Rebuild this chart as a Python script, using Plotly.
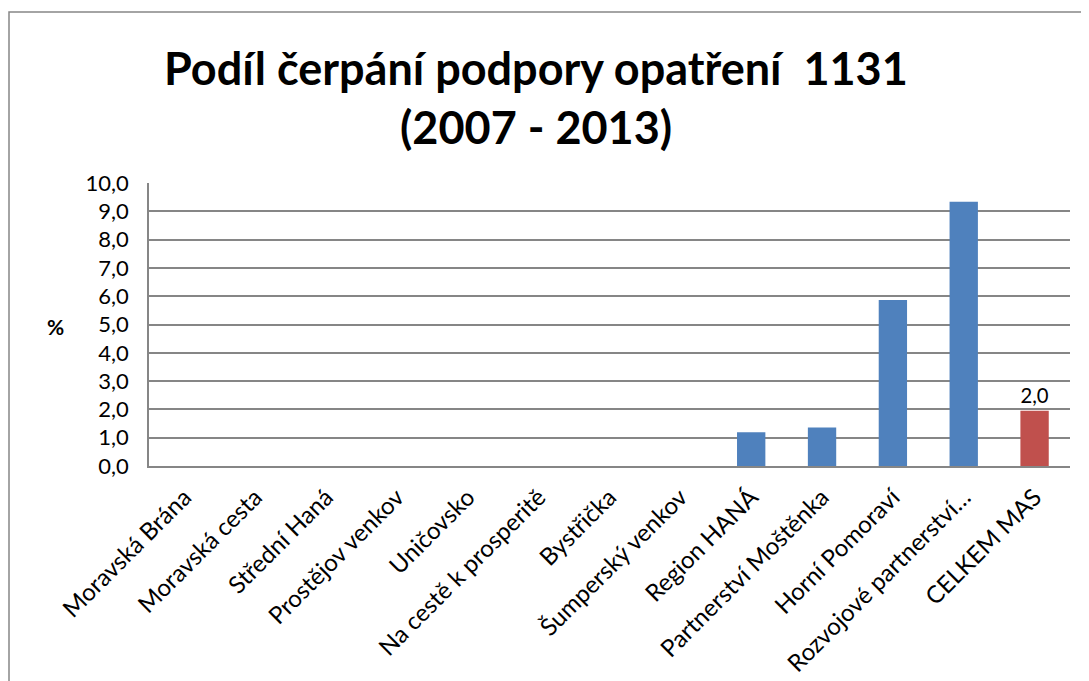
import plotly.graph_objects as go

categories = [
    "Moravská Brána", "Moravská cesta", "Střední Haná", "Prostějov venkov",
    "Uničovsko", "Na cestě k prosperitě", "Bystřička", "Šumperský venkov",
    "Region HANÁ", "Partnerství Moštěnka", "Horní Pomoraví",
    "Rozvojové partnerství…", "CELKEM MAS",
]
values = [0, 0, 0, 0, 0, 0, 0, 0, 1.19, 1.36, 5.87, 9.34, 1.95]
labels = [""] * 12 + ["2,0"]

BLUE = "#4F81BD"
RED = "#C0504D"
GRID = "#868686"
FONT = "Lato, Carlito, sans-serif"

colors = [RED if c == "CELKEM MAS" else BLUE for c in categories]

fig = go.Figure(go.Bar(
    x=categories,
    y=values,
    marker=dict(color=colors, line=dict(width=0)),
    text=labels,
    textposition="outside",
    textfont=dict(size=22, color="black", family=FONT),
    cliponaxis=False,
))

# page body has an 8px margin; target plot area on screen: x 149..1070, y 183..466
L, R, T, B = 149, 1070, 183, 466
W, H = R - L, B - T


def px(x):
    return (x - L) / W


def py(y):
    return (B - y) / H


fig.update_layout(
    width=1081,
    height=673,
    margin=dict(l=L - 8, r=1081 - (R - 8), t=T - 8, b=673 - (B - 8)),
    plot_bgcolor="white",
    paper_bgcolor="white",
    separators=", ",
    font=dict(family=FONT, color="black", size=22),
    bargap=0.6,
    showlegend=False,
    xaxis=dict(
        tickangle=-45,
        showline=True,
        linecolor=GRID,
        linewidth=1.5,
        showgrid=False,
        automargin=False,
        ticks="",
        ticklabelstandoff=6,
        tickfont=dict(size=24),
    ),
    yaxis=dict(
        range=[0, 10],
        dtick=1,
        tickformat=".1f",
        showgrid=True,
        gridcolor=GRID,
        gridwidth=1.5,
        showline=True,
        linecolor=GRID,
        linewidth=1.5,
        zeroline=False,
        automargin=False,
        ticks="",
        ticklabelstandoff=14,
        tickfont=dict(size=22),
    ),
    annotations=[
        dict(text="<b>Podíl čerpání podpory opatření  1131</b>", x=px(536), y=py(68),
             xref="paper", yref="paper", showarrow=False,
             font=dict(size=45, family=FONT), xanchor="center", yanchor="middle"),
        dict(text="<b>(2007 - 2013)</b>", x=px(536), y=py(127),
             xref="paper", yref="paper", showarrow=False,
             font=dict(size=45, family=FONT), xanchor="center", yanchor="middle"),
        dict(text="<b>%</b>", x=px(55), y=py(326),
             xref="paper", yref="paper", showarrow=False,
             font=dict(size=21, family=FONT), xanchor="center", yanchor="middle"),
    ],
    shapes=[
        dict(type="rect", xref="paper", yref="paper",
             x0=px(9), x1=px(1100), y0=py(700), y1=py(12),
             line=dict(color=GRID, width=1.5), layer="below"),
    ],
)

fig.write_html("out.html")
